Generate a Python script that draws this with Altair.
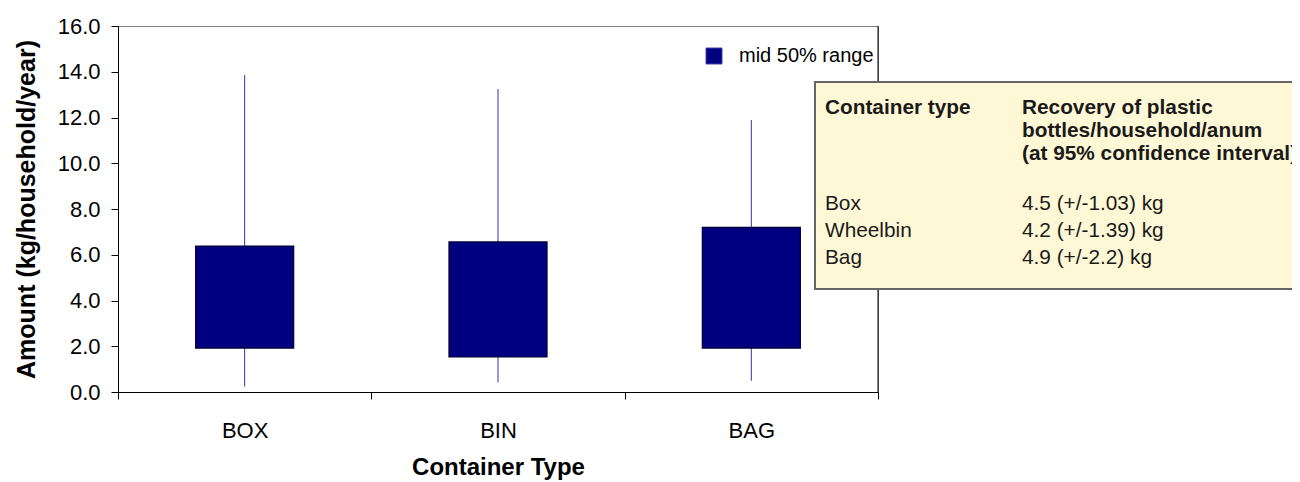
import altair as alt
import pandas as pd

# ---- data ----
categories = ["BOX", "BIN", "BAG"]
q1 = [1.92, 1.53, 1.92]
q3 = [6.38, 6.56, 7.20]
whisker_low = [0.24, 0.42, 0.49]
whisker_high = [13.86, 13.25, 11.89]
series_name = "mid 50% range"

y_ticks = [0, 2, 4, 6, 8, 10, 12, 14, 16]

tb_col1_header = ["Container type"]
tb_col2_header = ["Recovery of plastic", "bottles/household/anum", "(at 95% confidence interval)"]
tb_types = ["Box", "Wheelbin", "Bag"]
tb_values = ["4.5 (+/-1.03) kg", "4.2 (+/-1.39) kg", "4.9 (+/-2.2) kg"]

FONT = "Liberation Sans, Arial, Helvetica, sans-serif"
W, H = 760, 366

df = pd.DataFrame({
    "cat": categories, "q1": q1, "q3": q3,
    "lo": whisker_low, "hi": whisker_high,
    "series": [series_name] * len(categories),
})

x_enc = alt.X(
    "cat:N", sort=categories,
    scale=alt.Scale(paddingInner=0, paddingOuter=0),
    axis=alt.Axis(
        title="Container Type", labelAngle=0, tickBand="extent",
        labelFontSize=22, labelFont=FONT, labelColor="#000",
        titleFontSize=24, titleFont=FONT, titleFontWeight="bold", titleColor="#000",
        tickSize=7, tickColor="#000", domainColor="#000",
        labelPadding=21, titlePadding=14,
    ),
)

y_scale = alt.Scale(domain=[0, 16], nice=False, zero=True)
y_axis = alt.Axis(
    title="Amount (kg/household/year)", values=y_ticks, format=".1f",
    labelFontSize=22, labelFont=FONT, labelColor="#000",
    titleFontSize=25, titleFont=FONT, titleFontWeight="bold", titleColor="#000",
    tickSize=7, tickColor="#000", domainColor="#000",
    labelPadding=11, titlePadding=18, grid=False,
)

base = alt.Chart(df)

whiskers = base.mark_rule(color="#3535a5", strokeWidth=1).encode(
    x=x_enc,
    y=alt.Y("lo:Q", scale=y_scale, axis=y_axis),
    y2="hi:Q",
)

boxes = base.mark_bar(
    width=alt.RelativeBandSize(0.387), stroke="#000030", strokeWidth=1.2
).encode(
    x=x_enc,
    y=alt.Y("q1:Q", scale=y_scale, axis=None),
    y2="q3:Q",
    color=alt.Color(
        "series:N",
        scale=alt.Scale(domain=[series_name], range=["#000080"]),
        legend=alt.Legend(
            title=None, orient="none", legendX=586, legendY=20,
            symbolType="square", symbolSize=256, symbolStrokeColor="#4444aa",
            symbolStrokeWidth=1, labelFontSize=20, labelFont=FONT,
            labelColor="#000", labelOffset=15,
        ),
    ),
)

right_border = alt.Chart(pd.DataFrame({"a": [0]})).mark_rule(color="#000", strokeWidth=1).encode(
    x=alt.value(W), y=alt.value(0), y2=alt.value(H)
)

# ---- text box annotation ----
box_left, box_right, box_top, box_bottom = 697, 1200, 56, 263
textbox = alt.Chart(pd.DataFrame({"a": [0]})).mark_rect(
    fill="#fff8d6", stroke="#666666", strokeWidth=2
).encode(
    x=alt.value(box_left), x2=alt.value(box_right),
    y=alt.value(box_top), y2=alt.value(box_bottom),
)

col1_x, col2_x = 707, 904
head_y0, head_step = 82, 23
row_y0, row_step = 178, 27

rows = []
for i, t in enumerate(tb_col1_header):
    rows.append({"t": t, "px": col1_x, "py": head_y0 + i * head_step, "b": "bold"})
for i, t in enumerate(tb_col2_header):
    rows.append({"t": t, "px": col2_x, "py": head_y0 + i * head_step, "b": "bold"})
for i, t in enumerate(tb_types):
    rows.append({"t": t, "px": col1_x, "py": row_y0 + i * row_step, "b": "normal"})
for i, t in enumerate(tb_values):
    rows.append({"t": t, "px": col2_x, "py": row_y0 + i * row_step, "b": "normal"})
tdf = pd.DataFrame(rows)

tb_bold = alt.Chart(tdf[tdf.b == "bold"]).mark_text(
    align="left", baseline="middle", font=FONT, fontSize=20.8, fontWeight="bold", color="#1a1a1a"
).encode(
    x=alt.X("px:Q", scale=None, axis=None),
    y=alt.Y("py:Q", scale=None, axis=None),
    text="t:N",
)

tb_norm = alt.Chart(tdf[tdf.b == "normal"]).mark_text(
    align="left", baseline="middle", font=FONT, fontSize=20.8, color="#1a1a1a"
).encode(
    x=alt.X("px:Q", scale=None, axis=None),
    y=alt.Y("py:Q", scale=None, axis=None),
    text="t:N",
)

chart = alt.layer(
    whiskers, boxes, right_border, textbox, tb_bold, tb_norm
).resolve_scale(
    y="independent"
).properties(
    width=W, height=H,
    autosize=alt.AutoSizeParams(type="none"),
    padding={"left": 110, "top": 18, "right": 414, "bottom": 90},
    background="white",
).configure_view(
    stroke="#808080", strokeWidth=1
)

chart.save("out.html", embed_options={"renderer": "svg", "actions": False})
